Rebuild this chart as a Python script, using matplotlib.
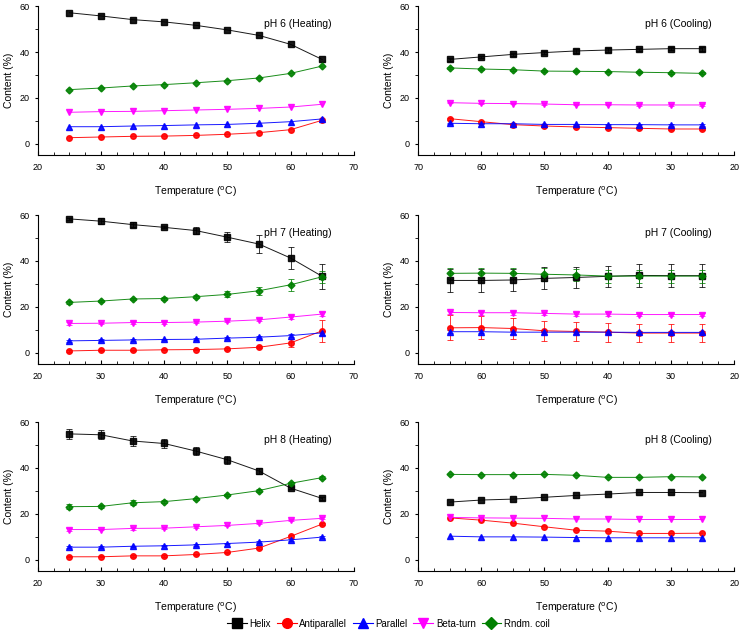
import numpy as np
import matplotlib
matplotlib.use('Agg')
import matplotlib.pyplot as plt
from matplotlib.ticker import MultipleLocator
from matplotlib.lines import Line2D

plt.rcParams['font.family'] = ['Liberation Sans', 'DejaVu Sans']

temps = [25, 30, 35, 40, 45, 50, 55, 60, 65]
temps_cool = [65, 60, 55, 50, 45, 40, 35, 30, 25]

names = ['Helix', 'Antiparallel', 'Parallel', 'Beta-turn', 'Rndm. coil']
colors = ['black', 'red', 'blue', 'magenta', 'green']
markers = ['s', 'o', '^', 'v', 'D']

# pH 6 heating
ph6_heat = {
    'Helix':        [57.2, 55.8, 54.2, 53.2, 51.7, 49.7, 47.3, 43.4, 36.8],
    'Antiparallel': [2.6, 2.9, 3.2, 3.3, 3.6, 4.1, 4.8, 6.1, 10.2],
    'Parallel':     [7.4, 7.4, 7.7, 7.9, 8.2, 8.4, 8.9, 9.6, 10.8],
    'Beta-turn':    [13.7, 14.0, 14.1, 14.4, 14.7, 15.0, 15.4, 16.0, 17.2],
    'Rndm. coil':   [23.6, 24.3, 25.2, 25.8, 26.6, 27.5, 28.7, 30.7, 33.9],
}
# pH 6 cooling (65 -> 25)
ph6_cool = {
    'Helix':        [36.8, 37.9, 39.0, 39.8, 40.5, 40.9, 41.2, 41.5, 41.5],
    'Antiparallel': [10.9, 9.6, 8.3, 7.7, 7.3, 7.0, 6.7, 6.4, 6.4],
    'Parallel':     [8.9, 8.7, 8.7, 8.4, 8.4, 8.3, 8.3, 8.2, 8.2],
    'Beta-turn':    [17.9, 17.6, 17.5, 17.3, 17.0, 17.0, 16.9, 16.9, 16.9],
    'Rndm. coil':   [33.1, 32.6, 32.3, 31.7, 31.6, 31.5, 31.2, 31.0, 30.7],
}
ph6_cool_err = {
    'Helix':        [0.5, 0.6, 0.6, 0.6, 0.7, 0.7, 0.8, 0.8, 0.9],
    'Antiparallel': [0.5, 0.5, 0.4, 0.4, 0.4, 0.4, 0.4, 0.4, 0.4],
    'Parallel':     [0.3, 0.3, 0.3, 0.3, 0.3, 0.3, 0.3, 0.3, 0.3],
    'Beta-turn':    [0.3, 0.3, 0.3, 0.3, 0.3, 0.3, 0.3, 0.3, 0.3],
    'Rndm. coil':   [0.4, 0.4, 0.4, 0.4, 0.4, 0.4, 0.4, 0.4, 0.4],
}

# pH 7 heating
ph7_heat = {
    'Helix':        [58.4, 57.4, 55.9, 54.7, 53.3, 50.4, 47.4, 41.3, 33.3],
    'Antiparallel': [0.7, 1.0, 1.0, 1.2, 1.3, 1.6, 2.3, 4.2, 9.5],
    'Parallel':     [5.1, 5.3, 5.5, 5.7, 5.8, 6.3, 6.7, 7.4, 8.6],
    'Beta-turn':    [12.7, 12.8, 13.1, 13.1, 13.3, 13.7, 14.3, 15.5, 16.8],
    'Rndm. coil':   [21.9, 22.5, 23.4, 23.6, 24.4, 25.4, 27.0, 29.6, 33.1],
}
ph7_heat_err = {
    'Helix':        [0.6, 1.2, 1.0, 0.5, 1.5, 2.3, 3.9, 4.7, 5.5],
    'Antiparallel': [0.3, 0.3, 0.3, 0.3, 0.3, 0.4, 0.5, 1.8, 4.7],
    'Parallel':     [0.4, 0.4, 0.4, 0.4, 0.4, 0.5, 0.5, 0.6, 0.8],
    'Beta-turn':    [0.5, 0.5, 0.5, 0.5, 0.5, 0.5, 0.6, 0.7, 1.0],
    'Rndm. coil':   [0.5, 0.5, 0.5, 0.5, 0.7, 1.3, 1.7, 2.5, 2.6],
}
# pH 7 cooling
ph7_cool = {
    'Helix':        [31.5, 31.5, 31.7, 32.4, 32.8, 33.3, 33.7, 33.6, 33.6],
    'Antiparallel': [10.8, 10.9, 10.5, 9.5, 9.2, 8.9, 8.5, 8.5, 8.5],
    'Parallel':     [9.1, 9.1, 8.9, 8.9, 8.9, 8.9, 8.8, 8.8, 8.8],
    'Beta-turn':    [17.5, 17.4, 17.4, 17.1, 16.8, 16.8, 16.6, 16.6, 16.6],
    'Rndm. coil':   [34.6, 34.7, 34.6, 34.2, 33.9, 33.4, 33.4, 33.4, 33.4],
}
ph7_cool_err = {
    'Helix':        [5.0, 5.0, 4.8, 4.8, 4.7, 4.7, 5.0, 5.0, 5.0],
    'Antiparallel': [5.5, 5.0, 4.6, 4.4, 4.1, 4.1, 3.9, 3.9, 3.9],
    'Parallel':     [0.6, 0.6, 0.6, 0.6, 0.6, 0.6, 0.6, 0.6, 0.6],
    'Beta-turn':    [0.8, 0.8, 0.8, 0.8, 0.8, 0.8, 0.8, 0.8, 0.8],
    'Rndm. coil':   [2.3, 2.3, 2.3, 2.8, 2.8, 2.8, 2.8, 2.8, 2.8],
}

# pH 8 heating
ph8_heat = {
    'Helix':        [54.9, 54.5, 51.8, 50.7, 47.4, 43.6, 38.7, 31.2, 26.7],
    'Antiparallel': [1.2, 1.2, 1.6, 1.6, 2.2, 3.1, 5.0, 10.1, 15.5],
    'Parallel':     [5.4, 5.4, 5.8, 6.0, 6.4, 7.0, 7.6, 8.6, 9.8],
    'Beta-turn':    [13.1, 13.1, 13.6, 13.7, 14.3, 14.9, 15.8, 17.1, 18.0],
    'Rndm. coil':   [23.1, 23.2, 24.8, 25.3, 26.6, 28.2, 30.1, 33.3, 35.8],
}
ph8_heat_err = {
    'Helix':        [2.2, 2.0, 2.0, 1.8, 1.8, 1.8, 1.3, 0.6, 0.5],
    'Antiparallel': [0.3, 0.3, 0.3, 0.3, 0.3, 0.3, 0.4, 0.5, 0.6],
    'Parallel':     [0.3, 0.3, 0.3, 0.3, 0.3, 0.3, 0.3, 0.3, 0.3],
    'Beta-turn':    [0.6, 0.4, 0.5, 0.4, 0.4, 0.4, 0.4, 0.4, 0.4],
    'Rndm. coil':   [1.2, 0.7, 1.0, 0.5, 0.5, 0.5, 0.5, 0.5, 0.5],
}
# pH 8 cooling
ph8_cool = {
    'Helix':        [25.1, 26.0, 26.4, 27.2, 28.0, 28.6, 29.3, 29.3, 29.2],
    'Antiparallel': [18.2, 17.2, 15.9, 14.3, 12.8, 12.4, 11.4, 11.4, 11.5],
    'Parallel':     [10.2, 9.9, 9.9, 9.8, 9.6, 9.5, 9.5, 9.5, 9.5],
    'Beta-turn':    [18.4, 18.2, 18.1, 18.0, 17.7, 17.7, 17.5, 17.5, 17.5],
    'Rndm. coil':   [37.2, 37.1, 37.1, 37.2, 36.8, 35.9, 35.9, 36.2, 36.1],
}

panels = [
    (ph6_heat, None, temps, 'pH 6 (Heating)', False),
    (ph6_cool, ph6_cool_err, temps_cool, 'pH 6 (Cooling)', True),
    (ph7_heat, ph7_heat_err, temps, 'pH 7 (Heating)', False),
    (ph7_cool, ph7_cool_err, temps_cool, 'pH 7 (Cooling)', True),
    (ph8_heat, ph8_heat_err, temps, 'pH 8 (Heating)', False),
    (ph8_cool, None, temps_cool, 'pH 8 (Cooling)', True),
]

fig = plt.figure(figsize=(7.4, 6.33), dpi=100)

lefts = [0.051, 0.565]
bottoms = [0.755, 0.425, 0.098]
w, h = 0.427, 0.235

for i, (data, err, xs, title, cool) in enumerate(panels):
    ax = fig.add_axes([lefts[i % 2], bottoms[i // 2], w, h])
    for name, c, m in zip(names, colors, markers):
        ms = 3.5 if m == 'D' else 4
        ye = err[name] if err is not None else None
        ax.errorbar(xs, data[name], yerr=ye, color=c, marker=m, ms=ms, lw=0.7,
                    elinewidth=0.6, capsize=2, capthick=0.6, ecolor=c, alpha=0.9)
    if cool:
        ax.set_xlim(70, 20)
    else:
        ax.set_xlim(20, 70)
    ax.set_ylim(-5, 60)
    ax.xaxis.set_major_locator(MultipleLocator(10))
    ax.xaxis.set_minor_locator(MultipleLocator(2.5))
    ax.yaxis.set_major_locator(MultipleLocator(20))
    ax.yaxis.set_minor_locator(MultipleLocator(10))
    ax.spines['top'].set_visible(False)
    ax.spines['right'].set_visible(False)
    ax.spines['left'].set_linewidth(0.8)
    ax.spines['bottom'].set_linewidth(0.8)
    ax.tick_params(axis='x', which='both', direction='in', labelsize=6.5, pad=6)
    ax.tick_params(axis='x', which='major', length=3)
    ax.tick_params(axis='x', which='minor', length=2)
    ax.tick_params(axis='y', which='both', direction='out', labelsize=6.5, length=2.5)
    ax.set_xlabel('Temperature ($^{\\rm o}$C)', fontsize=7.5, labelpad=9)
    ax.set_ylabel('Content (%)', fontsize=7.5, labelpad=4)
    ax.text(0.93, 0.88, title, transform=ax.transAxes, ha='right', va='center', fontsize=7.5)

handles = [Line2D([], [], color=c, marker=m, ms=7 if m != 'D' else 6, lw=0.8)
           for c, m in zip(colors, markers)]
fig.legend(handles, names, loc='center', bbox_to_anchor=(0.525, 0.015), ncol=5,
           frameon=False, fontsize=7, handlelength=2.0, handletextpad=0.3,
           columnspacing=0.6)

fig.savefig('out.png', dpi=100)
